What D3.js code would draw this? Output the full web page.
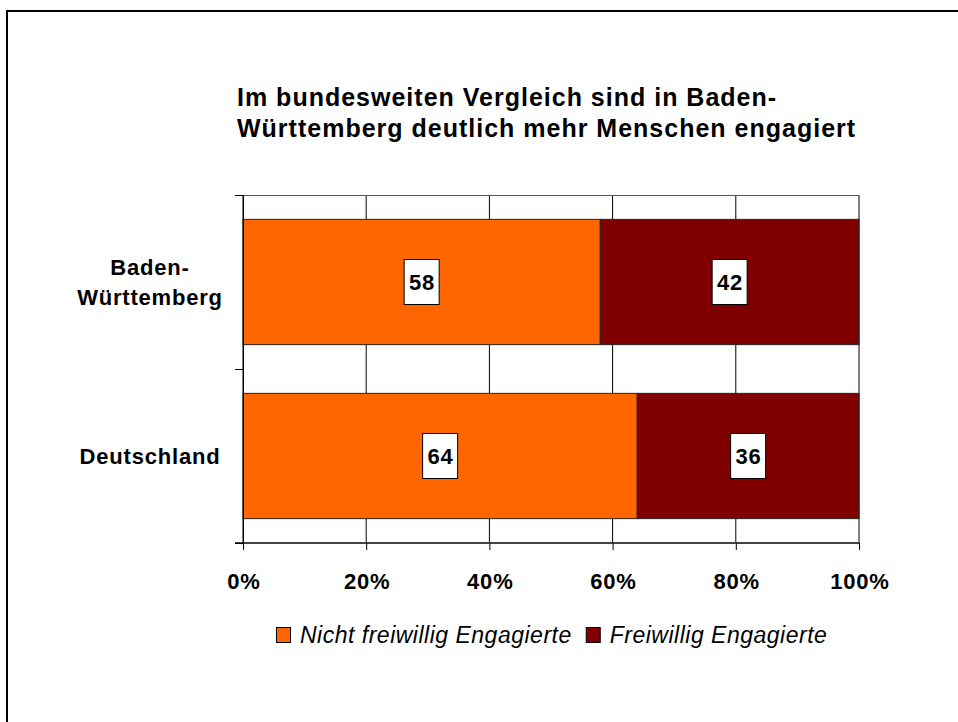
<!DOCTYPE html>
<html><head><meta charset="utf-8">
<script src="https://cdn.jsdelivr.net/npm/d3@7"></script>
<style>body{margin:0;background:#fff}svg{display:block}</style>
</head><body>
<script>
const categories = ["Baden-Württemberg", "Deutschland"];
const categoryLines = [["Baden-", "Württemberg"], ["Deutschland"]];
const seriesNames = ["Nicht freiwillig Engagierte", "Freiwillig Engagierte"];
const nichtEngagiert = [58, 64];
const engagiert = [42, 36];
const tickValues = [0, 20, 40, 60, 80, 100];
const titleLines = ["Im bundesweiten Vergleich sind in Baden-", "Württemberg deutlich mehr Menschen engagiert"];
const colors = ["#FF6600", "#800000"];

const W = 958, H = 722;
const svg = d3.select("body").append("svg").attr("width", W).attr("height", H);
const font = "'Liberation Sans', Arial, sans-serif";

svg.append("rect").attr("x", 7).attr("y", 11).attr("width", 1000).attr("height", 800)
  .attr("fill", "none").attr("stroke", "#000").attr("stroke-width", 2);

const x = d3.scaleLinear().domain([0, 100]).range([243, 859]);
const y = d3.scaleBand().domain(categories).range([195, 543]).paddingInner(0.28).paddingOuter(0.14);

// title
svg.append("g").selectAll("text").data(titleLines).join("text")
  .attr("x", 237).attr("y", (d, i) => 106 + i * 31)
  .attr("font-family", font).attr("font-weight", "bold").attr("font-size", 25)
  .attr("letter-spacing", 1.0)
  .text(d => d);

// plot grid
const g = svg.append("g");
g.selectAll("line.grid").data(tickValues).join("line")
  .attr("x1", d => x(d)).attr("x2", d => x(d)).attr("y1", 195).attr("y2", 543)
  .attr("stroke", "#000").attr("stroke-width", 1);
g.append("line").attr("x1", 235).attr("x2", 859).attr("y1", 195.5).attr("y2", 195.5)
  .attr("stroke", "#555").attr("stroke-width", 1);

// stacked bars
const data = categories.map((c, i) => ({ c, vals: [nichtEngagiert[i], engagiert[i]] }));
const stack = d3.stack().keys([0, 1]).value((d, k) => d.vals[k]);
const series = stack(data);
series.forEach((s, si) => {
  g.selectAll(null).data(s).join("rect")
    .attr("x", d => x(d[0])).attr("width", d => x(d[1]) - x(d[0]))
    .attr("y", d => y(d.data.c)).attr("height", y.bandwidth())
    .attr("fill", colors[si]).attr("stroke", "#222").attr("stroke-width", 1);
});

// value labels
series.forEach((s, si) => {
  const lg = g.selectAll(null).data(s).join("g")
    .attr("transform", d => `translate(${x((d[0] + d[1]) / 2)},${y(d.data.c) + y.bandwidth() / 2})`);
  lg.append("rect").attr("x", -17.5).attr("y", -22.5).attr("width", 35).attr("height", 45)
    .attr("fill", "#fff").attr("stroke", "#000").attr("stroke-width", 1);
  lg.append("text").attr("text-anchor", "middle").attr("x", 0.4).attr("y", 8)
    .attr("font-family", font).attr("font-weight", "bold").attr("font-size", 22)
    .attr("letter-spacing", 0.7)
    .text(d => d.data.vals[si]);
});

// axes
const xAxis = d3.axisBottom(x).tickValues(tickValues).tickSize(7).tickFormat(d => d + "%");
const ax = svg.append("g").attr("transform", "translate(0,543)").call(xAxis);
ax.select(".domain").attr("stroke", "#444").attr("stroke-width", 2).attr("d", "M235,0H859");
ax.selectAll(".tick line").attr("stroke", "#000");
ax.selectAll(".tick text").attr("font-family", font).attr("font-weight", "bold")
  .attr("font-size", 22).attr("letter-spacing", 0.8).attr("fill", "#000")
  .attr("dy", 0).attr("y", 46).attr("x", 0.4);

svg.append("line").attr("x1", 243.5).attr("x2", 243.5).attr("y1", 195).attr("y2", 550)
  .attr("stroke", "#000").attr("stroke-width", 1);
[195, 369, 543].forEach(v => {
  svg.append("line").attr("x1", 235).attr("x2", 243).attr("y1", v + 0.5).attr("y2", v + 0.5)
    .attr("stroke", "#000");
});

// category labels
categories.forEach((c, i) => {
  const lines = categoryLines[i];
  const cy = y(c) + y.bandwidth() / 2;
  const t = svg.append("text").attr("text-anchor", "middle")
    .attr("font-family", font).attr("font-weight", "bold").attr("font-size", 22)
    .attr("letter-spacing", 0.8);
  lines.forEach((l, j) => {
    t.append("tspan").attr("x", 150)
      .attr("y", cy + 8 + (j - (lines.length - 1) / 2) * 30).text(l);
  });
});

// legend
const leg = svg.append("g").attr("transform", "translate(276,627)");
let off = 0;
seriesNames.forEach((n, i) => {
  const it = leg.append("g").attr("transform", `translate(${off},0)`);
  it.append("rect").attr("x", 0.5).attr("y", 0.5).attr("width", 14).attr("height", 15)
    .attr("fill", colors[i]).attr("stroke", "#000");
  const t = it.append("text").attr("x", 24).attr("y", 16)
    .attr("font-family", font).attr("font-style", "italic").attr("font-size", 23)
    .attr("letter-spacing", 0.5).text(n);
  off += 24 + t.node().getComputedTextLength() + 14;
});
</script>
</body></html>
